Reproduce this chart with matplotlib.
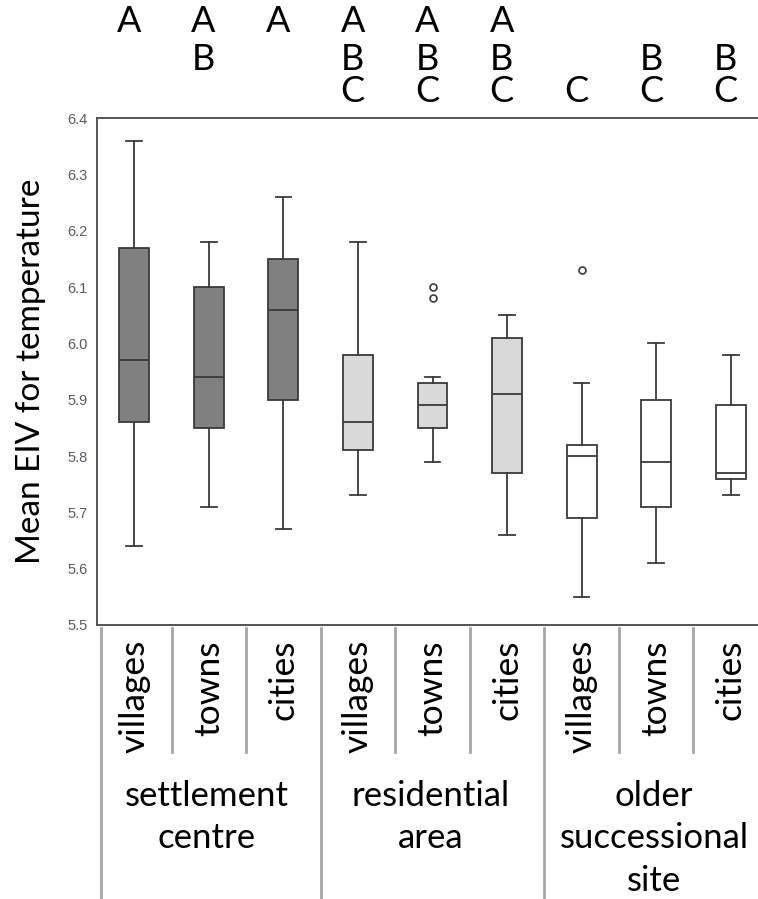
import matplotlib
matplotlib.use('Agg')
import matplotlib.pyplot as plt
import matplotlib.transforms as mtransforms

# box statistics
zones = ['settlement\ncentre', 'residential\narea', 'older\nsuccessional\nsite']
sizes = ['villages', 'towns', 'cities']
whislo = [5.64, 5.71, 5.67, 5.73, 5.79, 5.66, 5.55, 5.61, 5.73]
q1 = [5.86, 5.85, 5.90, 5.81, 5.85, 5.77, 5.69, 5.71, 5.76]
med = [5.97, 5.94, 6.06, 5.86, 5.89, 5.91, 5.80, 5.79, 5.77]
q3 = [6.17, 6.10, 6.15, 5.98, 5.93, 6.01, 5.82, 5.90, 5.89]
whishi = [6.36, 6.18, 6.26, 6.18, 5.94, 6.05, 5.93, 6.00, 5.98]
fliers = [[], [], [], [], [6.08, 6.10], [], [6.13], [], []]
# significance letters above each box
letters = ['A', 'AB', 'A', 'ABC', 'ABC', 'ABC', 'C', 'BC', 'BC']

zone_colors = ['#808080', '#d9d9d9', '#ffffff']
edge = '#3a3a3a'
font = ['Lato', 'DejaVu Sans']

W, H = 758, 899
fig = plt.figure(figsize=(W / 100, H / 100), dpi=100)
ax = fig.add_axes([97 / W, 1 - 625 / H, 671 / W, 507 / H])

stats = []
for i in range(len(med)):
    stats.append(dict(whislo=whislo[i], q1=q1[i], med=med[i], q3=q3[i],
                      whishi=whishi[i], fliers=fliers[i]))
pos = list(range(1, len(med) + 1))
bp = ax.bxp(stats, positions=pos, widths=0.4, capwidths=0.21, patch_artist=True,
            boxprops=dict(edgecolor=edge, linewidth=1.3),
            medianprops=dict(color=edge, linewidth=1.3),
            whiskerprops=dict(color=edge, linewidth=1.3),
            capprops=dict(color=edge, linewidth=1.3),
            flierprops=dict(marker='o', markersize=5, markerfacecolor='white',
                            markeredgecolor=edge, markeredgewidth=1.2))
for i, b in enumerate(bp['boxes']):
    b.set_facecolor(zone_colors[i // 3])

ax.set_xlim(0.5, 9.5)
ax.set_ylim(5.5, 6.4)
ax.set_yticks([5.5, 5.6, 5.7, 5.8, 5.9, 6.0, 6.1, 6.2, 6.3, 6.4])
ax.set_yticklabels(['5.5', '5.6', '5.7', '5.8', '5.9', '6.0', '6.1', '6.2', '6.3', '6.4'],
                   fontsize=10.5, color='#5a5a66', family='Liberation Sans')
ax.tick_params(axis='y', length=0, pad=7)
ax.set_xticks([])
for s in ['left', 'top', 'bottom']:
    ax.spines[s].set_color('#555555')
    ax.spines[s].set_linewidth(1.4)
ax.spines['right'].set_visible(False)

ax.set_ylabel('Mean EIV for temperature', fontsize=24, family=font, labelpad=15)

trans = mtransforms.blended_transform_factory(ax.transData, fig.transFigure)

# letters above boxes, one row per letter
row_y = {'A': 1 - 22 / H, 'B': 1 - 60 / H, 'C': 1 - 92 / H}
for i, lab in enumerate(letters):
    for ch in lab:
        ax.text(pos[i] - 0.07, row_y[ch], ch, transform=trans, ha='center', va='center',
                fontsize=26, family=font)

# category labels and separators below the axes
for i in range(len(med)):
    ax.text(pos[i], 1 - 640 / H, sizes[i % 3], transform=trans, rotation=90,
            ha='center', va='top', fontsize=25.5, family=font)
sep_x = [0.55] + [p + 0.5 for p in pos[:-1]]
for j, x in enumerate(sep_x):
    bottom = 0.0 if j % 3 == 0 else 1 - 752 / H
    ax.plot([x, x], [1 - 628 / H, bottom], transform=trans, color='#a6a6a6',
            linewidth=2, clip_on=False)

for g, name in enumerate(zones):
    ax.text(pos[3 * g + 1] - 0.03, 1 - 780 / H, name, transform=trans, ha='center', va='top',
            fontsize=25, family=font, linespacing=1.4)

fig.savefig('out.png', dpi=100)
